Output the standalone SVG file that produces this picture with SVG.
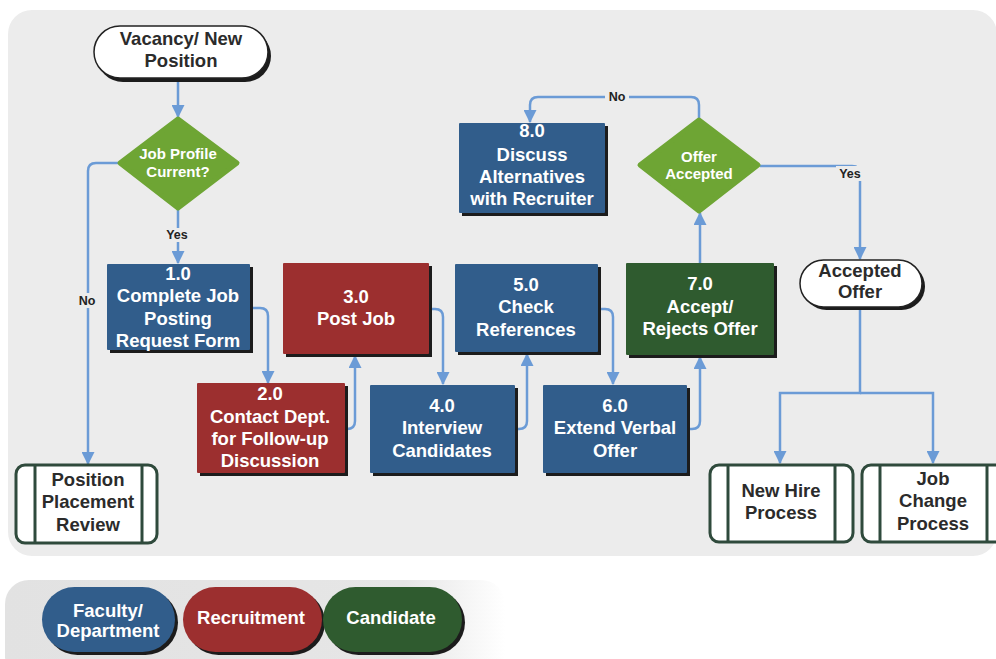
<svg xmlns="http://www.w3.org/2000/svg" width="996" height="659" viewBox="0 0 996 659">
<defs>
<style>
.t{font-family:"Liberation Sans",Arial,sans-serif;font-weight:bold;font-size:18.5px;text-anchor:middle}
.w{fill:#ffffff}
.d{fill:#2b2b2b}
.s{font-size:15px}
.lb{font-family:"Liberation Sans",Arial,sans-serif;font-weight:bold;font-size:12.5px;text-anchor:middle;fill:#222}
.blue{fill:#315d8b}
.red{fill:#9c2f2f}
.dg{fill:#2f5b2f}
.lg{fill:#6ea534;stroke:#6ea534;stroke-width:5;stroke-linejoin:round}
.sh{fill:#1c1c1c}
.pp{fill:#ffffff;stroke:#2f4a3c;stroke-width:3}
.ppl{stroke:#2f4a3c;stroke-width:3}
.pill{fill:#ffffff;stroke:#222;stroke-width:1.5}
.c{fill:none;stroke:#6b9bd6;stroke-width:2.5}
.ca{fill:none;stroke:#6b9bd6;stroke-width:2.5;marker-end:url(#ah)}
.bg{fill:#ececec}
</style>
<marker id="ah" markerUnits="userSpaceOnUse" markerWidth="13" markerHeight="13" viewBox="0 0 12 12" refX="11" refY="6" orient="auto">
<path d="M0,0 L12,6 L0,12 z" fill="#6b9bd6"/>
</marker>
<linearGradient id="lgd" x1="0" y1="0" x2="1" y2="0">
<stop offset="0" stop-color="#e2e2e2"/>
<stop offset="0.8" stop-color="#e6e6e6"/>
<stop offset="1" stop-color="#ffffff"/>
</linearGradient>
</defs>
<rect width="996" height="659" fill="#ffffff"/>
<rect x="8" y="10" width="989" height="546" rx="24" fill="#ececec"/>
<rect x="5" y="580" width="500" height="100" rx="24" fill="url(#lgd)"/>

<g id="connectors">
<path class="ca" d="M178,80 V117"/>
<path class="ca" d="M178,210 V263"/>
<path class="ca" d="M118,163 H96 Q88,163 88,171 V464"/>
<path class="ca" d="M250,308 H260 Q268,308 268,316 V383"/>
<path class="ca" d="M345,429 H347 Q355,429 355,421 V356"/>
<path class="ca" d="M428,309 H435 Q443,309 443,317 V384"/>
<path class="ca" d="M515,429 H519 Q527,429 527,421 V354"/>
<path class="ca" d="M598,309 H605 Q613,309 613,317 V384"/>
<path class="ca" d="M687,429 H692 Q700,429 700,421 V357"/>
<path class="ca" d="M700,263 V213"/>
<path class="ca" d="M699,118 V105 Q699,97 691,97 H538 Q530,97 530,105 V122"/>
<path class="ca" d="M760,166 H852 Q860,166 860,174 V259"/>
<path class="ca" d="M860,307 V393 H780 V463"/>
<path class="ca" d="M860,393 H933 V463"/>
<rect class="bg" x="163" y="228" width="30" height="14"/>
<text class="lb" x="177" y="239">Yes</text>
<rect class="bg" x="75" y="293" width="24" height="15"/>
<text class="lb" x="87" y="305">No</text>
<rect class="bg" x="605" y="90" width="24" height="14"/>
<text class="lb" x="617" y="101">No</text>
<rect class="bg" x="836" y="166" width="30" height="15"/>
<text class="lb" x="850" y="178">Yes</text>
</g>

<g id="vacancy">
<rect class="sh" x="97" y="30" width="174" height="52" rx="26"/>
<rect class="pill" x="94" y="26" width="174" height="52" rx="26"/>
<text class="t d" x="181" y="45">Vacancy/ New</text>
<text class="t d" x="181" y="67">Position</text>
</g>

<g id="job-profile">
<polygon class="lg" points="178,119 237,163 178,208 120,163"/>
<text class="t w s" x="178" y="159">Job Profile</text>
<text class="t w s" x="178" y="177">Current?</text>
</g>

<g id="n1">
<rect class="sh" x="110" y="267" width="143" height="86"/>
<rect class="blue" x="107" y="264" width="143" height="86" rx="1"/>
<text class="t w" x="178" y="280">1.0</text>
<text class="t w" x="178" y="302">Complete Job</text>
<text class="t w" x="178" y="325">Posting</text>
<text class="t w" x="178" y="347">Request Form</text>
</g>

<g id="n2">
<rect class="sh" x="200" y="386" width="148" height="90"/>
<rect class="red" x="197" y="383" width="148" height="90" rx="1"/>
<text class="t w" x="270" y="400">2.0</text>
<text class="t w" x="270" y="423">Contact Dept.</text>
<text class="t w" x="270" y="445">for Follow-up</text>
<text class="t w" x="270" y="467">Discussion</text>
</g>

<g id="n3">
<rect class="sh" x="286" y="266" width="146" height="91"/>
<rect class="red" x="283" y="263" width="146" height="91" rx="1"/>
<text class="t w" x="356" y="303">3.0</text>
<text class="t w" x="356" y="325">Post Job</text>
</g>

<g id="n4">
<rect class="sh" x="373" y="388" width="145" height="88"/>
<rect class="blue" x="370" y="385" width="145" height="88" rx="1"/>
<text class="t w" x="442" y="412">4.0</text>
<text class="t w" x="442" y="434">Interview</text>
<text class="t w" x="442" y="457">Candidates</text>
</g>

<g id="n5">
<rect class="sh" x="458" y="267" width="143" height="88"/>
<rect class="blue" x="455" y="264" width="143" height="88" rx="1"/>
<text class="t w" x="526" y="291">5.0</text>
<text class="t w" x="526" y="313">Check</text>
<text class="t w" x="526" y="336">References</text>
</g>

<g id="n6">
<rect class="sh" x="546" y="388" width="144" height="88"/>
<rect class="blue" x="543" y="385" width="144" height="88" rx="1"/>
<text class="t w" x="615" y="412">6.0</text>
<text class="t w" x="615" y="434">Extend Verbal</text>
<text class="t w" x="615" y="457">Offer</text>
</g>

<g id="n7">
<rect class="sh" x="629" y="266" width="148" height="92"/>
<rect class="dg" x="626" y="263" width="148" height="92" rx="1"/>
<text class="t w" x="700" y="290">7.0</text>
<text class="t w" x="700" y="313">Accept/</text>
<text class="t w" x="700" y="335">Rejects Offer</text>
</g>

<g id="n8">
<rect class="sh" x="462" y="126" width="146" height="90"/>
<rect class="blue" x="459" y="123" width="146" height="90" rx="1"/>
<text class="t w" x="532" y="137">8.0</text>
<text class="t w" x="532" y="161">Discuss</text>
<text class="t w" x="532" y="183">Alternatives</text>
<text class="t w" x="532" y="205">with Recruiter</text>
</g>

<g id="offer-accepted">
<polygon class="lg" points="699,120 758,165 699,211 640,165"/>
<text class="t w s" x="699" y="162">Offer</text>
<text class="t w s" x="699" y="179">Accepted</text>
</g>

<g id="accepted-offer">
<rect class="sh" x="803" y="263" width="122" height="47" rx="23.5"/>
<rect class="pill" x="800" y="260" width="122" height="47" rx="23.5"/>
<text class="t d" x="860" y="277">Accepted</text>
<text class="t d" x="860" y="298">Offer</text>
</g>

<g id="position-review">
<rect class="pp" x="16" y="465" width="141" height="78" rx="9"/>
<line class="ppl" x1="35" y1="465" x2="35" y2="543"/>
<line class="ppl" x1="142" y1="465" x2="142" y2="543"/>
<text class="t d" x="88" y="486">Position</text>
<text class="t d" x="88" y="508">Placement</text>
<text class="t d" x="88" y="531">Review</text>
</g>

<g id="new-hire">
<rect class="pp" x="710" y="465" width="143" height="77" rx="9"/>
<line class="ppl" x1="728" y1="465" x2="728" y2="542"/>
<line class="ppl" x1="835" y1="465" x2="835" y2="542"/>
<text class="t d" x="781" y="497">New Hire</text>
<text class="t d" x="781" y="519">Process</text>
</g>

<g id="job-change">
<rect class="pp" x="862" y="465" width="143" height="77" rx="9"/>
<line class="ppl" x1="880" y1="465" x2="880" y2="542"/>
<line class="ppl" x1="987" y1="465" x2="987" y2="542"/>
<text class="t d" x="933" y="485">Job</text>
<text class="t d" x="933" y="507">Change</text>
<text class="t d" x="933" y="530">Process</text>
</g>

<g id="legend-faculty">
<rect class="sh" x="45" y="590" width="133" height="65" rx="32.5"/>
<rect class="blue" x="42" y="587" width="133" height="65" rx="32.5"/>
<text class="t w" x="108" y="617">Faculty/</text>
<text class="t w" x="108" y="637">Department</text>
</g>
<g id="legend-recruitment">
<rect class="sh" x="186" y="590" width="139" height="65" rx="32.5"/>
<rect class="red" x="183" y="587" width="139" height="65" rx="32.5"/>
<text class="t w" x="251" y="624">Recruitment</text>
</g>
<g id="legend-candidate">
<rect class="sh" x="326" y="590" width="139" height="65" rx="32.5"/>
<rect class="dg" x="323" y="587" width="139" height="65" rx="32.5"/>
<text class="t w" x="391" y="624">Candidate</text>
</g>
</svg>
